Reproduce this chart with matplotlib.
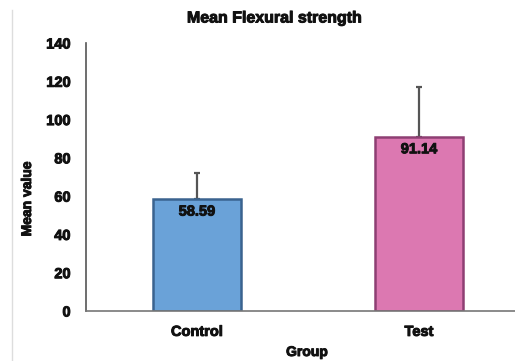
import matplotlib
matplotlib.use('Agg')
import matplotlib.pyplot as plt
import matplotlib.patheffects as pe
from matplotlib.lines import Line2D

groups = ['Control', 'Test']
means = [58.59, 91.14]
sds = [13.6, 25.8]
colors = ['#6aa2d8', '#dc78b1']
edges = ['#3a638f', '#8e3f73']

plt.rcParams['font.family'] = ['Liberation Sans', 'DejaVu Sans']
plt.rcParams['font.weight'] = 'bold'

heavy = [pe.withStroke(linewidth=0.7, foreground='#111111')]

fig = plt.figure(figsize=(5.15, 3.61), dpi=100)
ax = fig.add_axes([86/515, 50/361, 444/515, 268/361])

x = range(len(groups))
ax.bar(x, means, width=0.4, color=colors, edgecolor=edges, linewidth=1.8, zorder=2)
ax.errorbar(x, means, yerr=[[0, 0], sds], fmt='none', ecolor='#555555',
            elinewidth=1.6, capsize=2, capthick=1.6, zorder=1)
for xi, m in zip(x, means):
    ax.text(xi, m - 3, f'{m:.2f}', ha='center', va='top', fontsize=10.5,
            fontweight='bold', color='#111111', zorder=3, path_effects=heavy)

ax.set_xlim(-0.5, 1.5)
ax.set_ylim(0, 140)
ax.set_yticks(range(0, 141, 20))
ax.set_xticks(list(x))
ax.set_xticklabels(groups)
ax.tick_params(axis='both', length=0, labelsize=10.5, labelcolor='#111111')
ax.tick_params(axis='y', pad=11)
ax.tick_params(axis='x', pad=10)
for lab in ax.get_xticklabels() + ax.get_yticklabels():
    lab.set_path_effects(heavy)
for s in ['top', 'right']:
    ax.spines[s].set_visible(False)
ax.spines['left'].set_color('#555555')
ax.spines['bottom'].set_color('#777777')
ax.spines['left'].set_linewidth(1.2)
ax.spines['bottom'].set_linewidth(1.2)

fig.text(275/515, 1 - 18/361, 'Mean Flexural strength', ha='center', va='center',
         fontsize=11.5, fontweight='bold', color='#111111', path_effects=heavy)
fig.text(307/515, 1 - 352/361, 'Group', ha='center', va='center',
         fontsize=10, fontweight='bold', color='#111111', path_effects=heavy)
fig.text(27/515, 1 - 199/361, 'Mean value', ha='center', va='center',
         rotation=90, fontsize=10, fontweight='bold', color='#111111', path_effects=heavy)

fig.add_artist(Line2D([12/515, 12/515], [0, 1 - 10/361], color='#dddddd', linewidth=1))

fig.savefig('out.png', dpi=100)
